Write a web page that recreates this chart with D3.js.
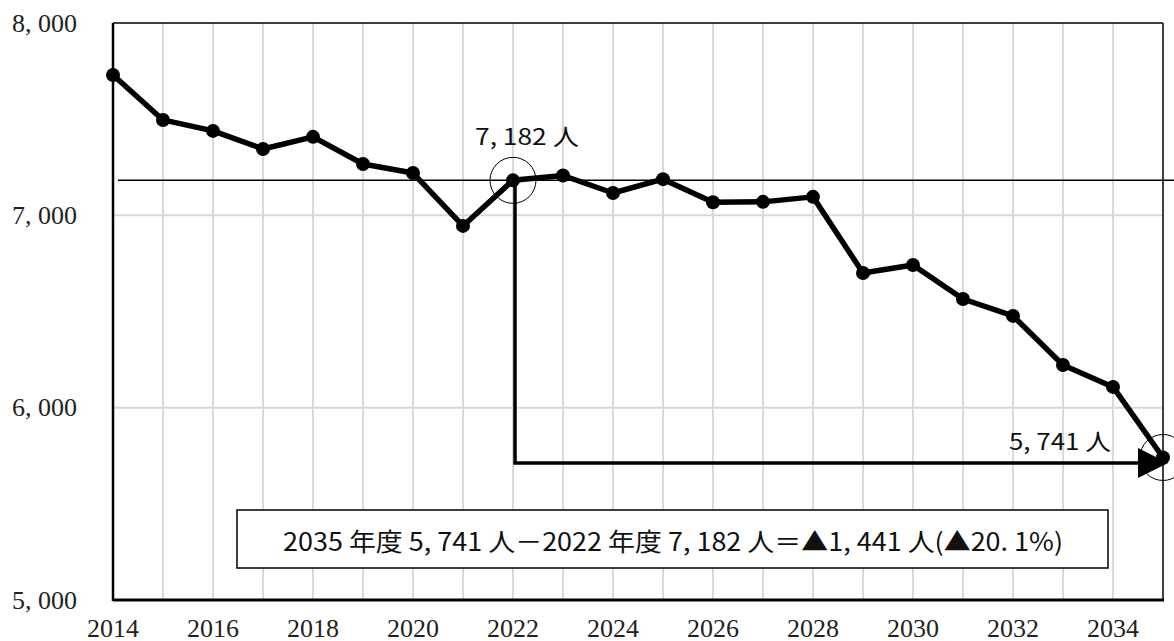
<!DOCTYPE html>
<head>
<meta charset="UTF-8">
<script src="https://cdn.jsdelivr.net/npm/d3@7"></script>
<style>
body { margin: 0; background: #fff; }
svg { display: block; }
.grid line { stroke: #d9d9d9; stroke-width: 2px; }
.axis text { font-family: "Liberation Serif", "DejaVu Serif", serif; font-size: 26px; fill: #222; }
.note { font-family: "Noto Sans CJK JP", sans-serif; fill: #111; }
</style>
</head>
<body>
<script>
var years = d3.range(2014, 2036);
var values = [7730, 7496, 7439, 7345, 7408, 7267, 7220, 6945, 7182, 7207, 7116,
              7188, 7068, 7070, 7096, 6700, 6742, 6565, 6477, 6222, 6108, 5741];
var yTicks = [5000, 6000, 7000, 8000];
var xTickYears = d3.range(2014, 2035, 2);
var baseYear = 2022, endYear = 2035;
var summary = "2035 年度 5, 741 人－2022 年度 7, 182 人＝▲1, 441 人(▲20. 1%)";

var width = 1174, height = 641;
var plotL = 113, plotR = 1163, plotT = 23, plotB = 600;

var x = d3.scaleLinear().domain([2014, 2035]).range([plotL, plotR]);
var y = d3.scaleLinear().domain([5000, 8000]).range([plotB, plotT]);

var svg = d3.select("body").append("svg")
    .attr("width", width)
    .attr("height", height);

var defs = svg.append("defs");
defs.append("marker")
    .attr("id", "arrow")
    .attr("viewBox", "0 0 10 10")
    .attr("refX", 9).attr("refY", 5)
    .attr("markerWidth", 32).attr("markerHeight", 30)
    .attr("markerUnits", "userSpaceOnUse")
    .attr("orient", "auto")
  .append("path")
    .attr("d", "M0,0L10,5L0,10Z")
    .attr("fill", "#000");

// grid
var grid = svg.append("g").attr("class", "grid");
grid.selectAll(".v").data(years.slice(1, -1)).enter().append("line")
    .attr("x1", d => x(d)).attr("x2", d => x(d))
    .attr("y1", plotT).attr("y2", plotB);
grid.selectAll(".h").data([6000, 7000]).enter().append("line")
    .attr("x1", plotL).attr("x2", plotR)
    .attr("y1", d => y(d)).attr("y2", d => y(d));

// frame
svg.append("line").attr("x1", plotL).attr("x2", plotR).attr("y1", plotT).attr("y2", plotT)
    .attr("stroke", "#000").attr("stroke-width", 1.5);
svg.append("line").attr("x1", plotR).attr("x2", plotR).attr("y1", plotT).attr("y2", plotB)
    .attr("stroke", "#000").attr("stroke-width", 1.5);
svg.append("line").attr("x1", plotL).attr("x2", plotL).attr("y1", plotT).attr("y2", plotB + 1)
    .attr("stroke", "#000").attr("stroke-width", 2.5);
svg.append("line").attr("x1", plotL).attr("x2", plotR + 1).attr("y1", plotB).attr("y2", plotB)
    .attr("stroke", "#000").attr("stroke-width", 3);

// axes labels
var ax = svg.append("g").attr("class", "axis");
ax.selectAll(".yl").data(yTicks).enter().append("text")
    .attr("x", 77).attr("y", d => y(d))
    .attr("text-anchor", "end").attr("dominant-baseline", "central")
    .text(d => d3.format(",")(d).replace(",", ", "));
ax.selectAll(".xl").data(xTickYears).enter().append("text")
    .attr("x", d => x(d)).attr("y", 628)
    .attr("text-anchor", "middle").attr("dominant-baseline", "central")
    .text(d => d);

var baseVal = values[years.indexOf(baseYear)];
var endVal = values[years.indexOf(endYear)];

// reference line at 2022 level
svg.append("line")
    .attr("x1", plotL + 5).attr("x2", width)
    .attr("y1", y(baseVal)).attr("y2", y(baseVal))
    .attr("stroke", "#000").attr("stroke-width", 1.5);

// series
var line = d3.line().x((d, i) => x(years[i])).y(d => y(d));
svg.append("path")
    .datum(values)
    .attr("d", line)
    .attr("fill", "none")
    .attr("stroke", "#000")
    .attr("stroke-width", 5.5)
    .attr("stroke-linejoin", "round");
svg.selectAll(".pt").data(values).enter().append("circle")
    .attr("cx", (d, i) => x(years[i])).attr("cy", d => y(d))
    .attr("r", 7).attr("fill", "#000");

// arrow from 2022 down and across to 2035
var arrowY = 463;
svg.append("path")
    .attr("d", "M" + (x(baseYear) + 2) + "," + y(baseVal) + "V" + arrowY + "H" + (x(endYear) + 2))
    .attr("fill", "none")
    .attr("stroke", "#000")
    .attr("stroke-width", 3.5)
    .attr("marker-end", "url(#arrow)");

// highlight circles
svg.selectAll(".ring").data([[baseYear, baseVal], [endYear, endVal]]).enter().append("circle")
    .attr("cx", d => x(d[0])).attr("cy", d => y(d[1]))
    .attr("r", 23).attr("fill", "none").attr("stroke", "#000").attr("stroke-width", 1);

// value notes
svg.append("text").attr("class", "note")
    .attr("x", 527).attr("y", 135)
    .attr("text-anchor", "middle").attr("dominant-baseline", "central")
    .attr("font-size", 23)
    .attr("textLength", 104).attr("lengthAdjust", "spacingAndGlyphs")
    .text("7, 182 人");
svg.append("text").attr("class", "note")
    .attr("x", 1060).attr("y", 440)
    .attr("text-anchor", "middle").attr("dominant-baseline", "central")
    .attr("font-size", 23)
    .attr("textLength", 102).attr("lengthAdjust", "spacingAndGlyphs")
    .text("5, 741 人");

// summary box
svg.append("rect")
    .attr("x", 237).attr("y", 510).attr("width", 871).attr("height", 58)
    .attr("fill", "#fff").attr("stroke", "#000").attr("stroke-width", 1.5);
svg.append("text").attr("class", "note")
    .attr("x", 673).attr("y", 540)
    .attr("text-anchor", "middle").attr("dominant-baseline", "central")
    .attr("font-size", 25)
    .attr("textLength", 780).attr("lengthAdjust", "spacingAndGlyphs")
    .text(summary);
</script>
</body>
